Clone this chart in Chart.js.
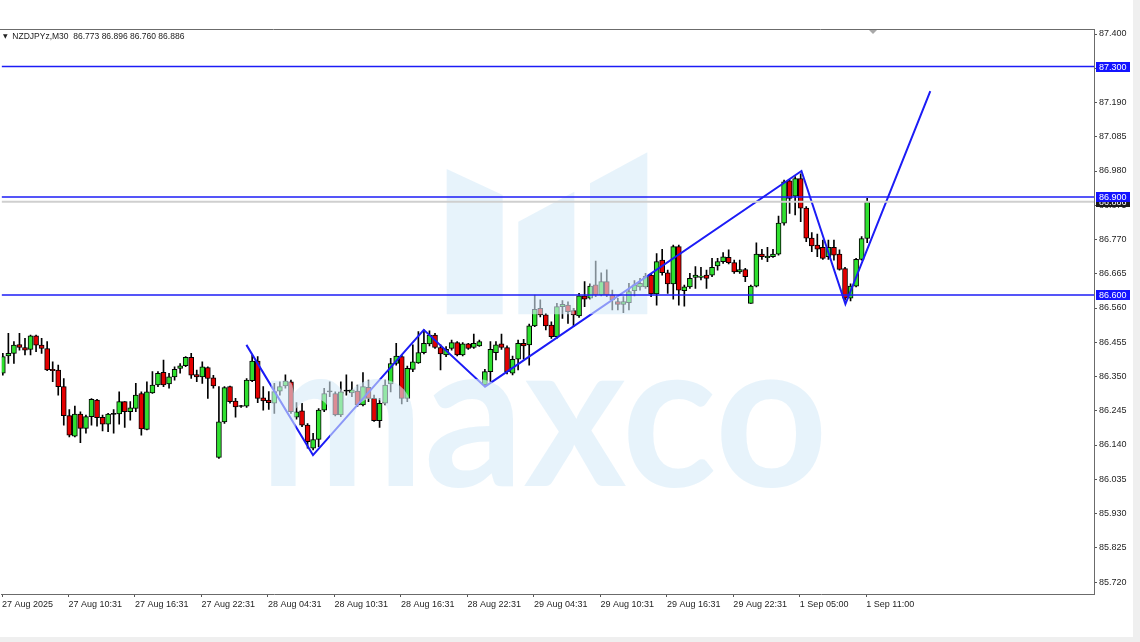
<!DOCTYPE html>
<html>
<head>
<meta charset="utf-8">
<script src="https://cdn.jsdelivr.net/npm/chart.js@4.4.1/dist/chart.umd.min.js"></script>
<style>
html,body{margin:0;padding:0;background:#fff;width:1140px;height:642px;overflow:hidden}
#wrap{position:relative;width:1140px;height:642px}
#c{position:absolute;left:0;top:0}
#hdr{position:absolute;left:3px;top:31px;font:8.5px 'Liberation Sans',Arial,sans-serif;color:#1a1a1a;white-space:pre;line-height:10px}
#hdr .tri{font:6px 'DejaVu Sans',sans-serif;color:#222;vertical-align:1px}
</style>
</head>
<body>
<div id="wrap">
<canvas id="c" width="1140" height="642"></canvas>
<div id="hdr"><span class="tri">▼</span>  NZDJPYz,M30  86.773 86.896 86.760 86.886</div>
</div>
<script>
// ---- data (M30 candles) ----
const opens = [86.360,86.413,86.421,86.448,86.439,86.433,86.475,86.446,86.436,86.372,86.370,86.319,86.230,86.167,86.235,86.191,86.227,86.278,86.225,86.204,86.235,86.235,86.273,86.242,86.252,86.298,86.188,86.300,86.324,86.363,86.327,86.349,86.375,86.383,86.409,86.356,86.349,86.377,86.346,86.102,86.211,86.319,86.275,86.259,86.259,86.337,86.397,86.285,86.278,86.268,86.305,86.321,86.334,86.225,86.245,86.201,86.130,86.157,86.247,86.303,86.298,86.232,86.305,86.300,86.305,86.263,86.317,86.283,86.215,86.268,86.327,86.390,86.411,86.283,86.372,86.392,86.423,86.450,86.477,86.439,86.416,86.436,86.454,86.416,86.450,86.439,86.444,86.324,86.365,86.423,86.450,86.439,86.360,86.403,86.452,86.447,86.505,86.559,86.539,86.508,86.472,86.564,86.569,86.552,86.536,86.597,86.590,86.631,86.600,86.641,86.600,86.580,86.571,86.576,86.613,86.625,86.625,86.661,86.603,86.707,86.668,86.634,86.748,86.613,86.625,86.654,86.654,86.661,86.661,86.689,86.702,86.715,86.699,86.671,86.678,86.574,86.627,86.725,86.714,86.717,86.725,86.820,86.950,86.903,86.957,86.866,86.774,86.753,86.746,86.717,86.746,86.725,86.681,86.590,86.627,86.709,86.773];
const highs = [86.421,86.482,86.457,86.482,86.467,86.477,86.477,86.467,86.457,86.395,86.385,86.344,86.249,86.259,86.242,86.232,86.282,86.280,86.232,86.237,86.249,86.303,86.273,86.273,86.329,86.303,86.334,86.365,86.365,86.400,86.360,86.380,86.390,86.411,86.421,86.370,86.395,86.380,86.354,86.319,86.319,86.321,86.283,86.262,86.344,86.416,86.411,86.319,86.304,86.329,86.334,86.355,86.339,86.270,86.268,86.206,86.176,86.252,86.314,86.334,86.303,86.334,86.355,86.334,86.324,86.362,86.339,86.293,86.283,86.339,86.406,86.452,86.416,86.382,86.447,86.488,86.493,86.490,86.482,86.447,86.442,86.462,86.457,86.454,86.452,86.480,86.462,86.372,86.457,86.457,86.480,86.444,86.413,86.462,86.464,86.511,86.600,86.585,86.544,86.518,86.574,86.583,86.579,86.559,86.605,86.641,86.634,86.704,86.668,86.677,86.615,86.590,86.595,86.636,86.644,86.651,86.666,86.666,86.727,86.740,86.676,86.753,86.753,86.630,86.666,86.687,86.685,86.676,86.712,86.712,86.730,86.738,86.707,86.707,86.682,86.630,86.760,86.740,86.746,86.740,86.842,86.952,86.954,86.963,86.971,86.871,86.791,86.787,86.768,86.768,86.768,86.738,86.685,86.634,86.712,86.779,86.896];
const lows = [86.354,86.390,86.390,86.431,86.416,86.416,86.426,86.421,86.368,86.334,86.293,86.201,86.165,86.165,86.147,86.176,86.201,86.198,86.183,86.181,86.176,86.204,86.194,86.216,86.242,86.170,86.186,86.298,86.319,86.319,86.314,86.339,86.360,86.380,86.344,86.334,86.329,86.283,86.314,86.099,86.206,86.268,86.225,86.255,86.255,86.334,86.270,86.247,86.249,86.237,86.293,86.314,86.237,86.219,86.196,86.130,86.125,86.135,86.242,86.288,86.229,86.227,86.293,86.288,86.258,86.260,86.273,86.212,86.194,86.263,86.303,86.385,86.266,86.273,86.365,86.390,86.419,86.444,86.436,86.370,86.411,86.431,86.413,86.413,86.433,86.436,86.442,86.319,86.334,86.401,86.433,86.358,86.355,86.370,86.403,86.385,86.503,86.533,86.493,86.467,86.467,86.528,86.513,86.503,86.531,86.564,86.587,86.595,86.597,86.595,86.554,86.554,86.546,86.554,86.597,86.615,86.620,86.595,86.569,86.661,86.605,86.587,86.569,86.566,86.620,86.620,86.646,86.620,86.656,86.676,86.697,86.695,86.666,86.666,86.641,86.574,86.625,86.709,86.702,86.715,86.722,86.814,86.850,86.845,86.825,86.763,86.733,86.717,86.709,86.709,86.707,86.676,86.584,86.582,86.625,86.707,86.760];
const closes = [86.411,86.421,86.446,86.439,86.431,86.475,86.446,86.436,86.370,86.368,86.319,86.230,86.170,86.235,86.191,86.227,86.280,86.224,86.204,86.235,86.234,86.273,86.242,86.254,86.293,86.189,86.303,86.324,86.360,86.324,86.349,86.372,86.383,86.409,86.354,86.349,86.380,86.344,86.321,86.211,86.316,86.273,86.257,86.258,86.339,86.397,86.283,86.275,86.270,86.304,86.319,86.336,86.242,86.242,86.201,86.150,86.157,86.247,86.298,86.303,86.232,86.303,86.305,86.309,86.263,86.319,86.283,86.215,86.268,86.324,86.390,86.413,86.283,86.375,86.395,86.423,86.452,86.477,86.439,86.419,86.433,86.454,86.416,86.450,86.436,86.452,86.457,86.365,86.433,86.447,86.439,86.365,86.403,86.452,86.444,86.505,86.556,86.539,86.505,86.472,86.564,86.571,86.549,86.539,86.597,86.587,86.627,86.600,86.641,86.600,86.585,86.571,86.580,86.610,86.631,86.636,86.658,86.603,86.702,86.668,86.634,86.748,86.615,86.625,86.651,86.661,86.658,86.651,86.685,86.702,86.717,86.699,86.671,86.678,86.656,86.627,86.725,86.717,86.719,86.725,86.820,86.947,86.896,86.957,86.866,86.774,86.750,86.740,86.712,86.746,86.722,86.678,86.590,86.627,86.709,86.773,86.886];

// pattern line (bar index, price)
const zigzagX = [43.96, 55.98, 75.98, 87.03, 144.14, 152.07, 167.39];
const zigzagY = [86.447, 86.109, 86.493, 86.319, 86.980, 86.572, 87.225];

// horizontal levels and current bid
const levels = [87.300, 86.900, 86.600];
const bidPrice = 86.886;

// axis tick labels
const xTickBars = [0, 12, 24, 36, 48, 60, 72, 84, 96, 108, 120, 132, 144, 156];
const xTickLabels = ['27 Aug 2025','27 Aug 10:31','27 Aug 16:31','27 Aug 22:31','28 Aug 04:31','28 Aug 10:31','28 Aug 16:31','28 Aug 22:31','29 Aug 04:31','29 Aug 10:31','29 Aug 16:31','29 Aug 22:31','1 Sep 05:00','1 Sep 11:00'];
const yTickLabels = ['87.400','87.295','87.190','87.085','86.980','86.875','86.770','86.665','86.560','86.455','86.350','86.245','86.140','86.035','85.930','85.825','85.720'];

// ---- chart ----
Chart.defaults.font.family = "'Liberation Sans', Arial, sans-serif";
Chart.defaults.font.size = 9;
Chart.defaults.color = '#1e1e1e';

const idx = opens.map((_, i) => i);
const wickData = idx.map(i => ({x: i, y: [lows[i], highs[i]]}));
const bodyData = idx.map(i => ({x: i, y: [opens[i], closes[i]]}));
const bodyFill = idx.map(i => Math.abs(closes[i] - opens[i]) < 0.0015 ? '#000000' : (closes[i] > opens[i] ? '#2fe02f' : '#e40000'));
const zigzagData = zigzagX.map((x, i) => ({x, y: zigzagY[i]}));
const BLUE = '#1c1cf6';

const datasets = [
  {type:'bar', label:'wick', data: wickData, backgroundColor:'#000000', borderWidth:0, barThickness:1, grouped:false, order:10},
  {type:'bar', label:'body', data: bodyData, backgroundColor: bodyFill, borderColor:'#000000', borderWidth:1, borderSkipped:false, barThickness:5, minBarLength:1, grouped:false, order:9},
  {type:'line', label:'pattern', data: zigzagData, borderColor: BLUE, borderWidth:2, pointRadius:0, tension:0, fill:false, order:8},
  {type:'line', label:'bid', data:[{x:-5,y:bidPrice},{x:260,y:bidPrice}], borderColor:'#cfcfcf', borderWidth:2, pointRadius:0, fill:false, order:3}
];
levels.forEach((lv, i) => datasets.push({type:'line', label:'level'+i, data:[{x:-5,y:lv},{x:260,y:lv}], borderColor: BLUE, borderWidth:1.5, pointRadius:0, fill:false, order:1}));

const PX_PER_BAR = 5.55;
const PX_PER_UNIT = 326.2;
const xMin = -1 / PX_PER_BAR;
const xMax = xMin + 1094 / PX_PER_BAR;
const yMax = 87.4 + 5 / PX_PER_UNIT;
const yMin = 87.4 - 560 / PX_PER_UNIT;

const bgPlugin = {
  id:'bg',
  beforeDraw(chart){
    const c = chart.ctx;
    c.save();
    c.fillStyle = '#ffffff'; c.fillRect(0,0,chart.width,chart.height);
    c.fillStyle = '#efefef';
    c.fillRect(1133,0,7,chart.height);
    c.fillRect(0,637,chart.width,5);
    c.restore();
  }
};

const watermarkPlugin = {
  id:'wm',
  afterDatasetDraw(chart, args){
    if (args.index !== 2) return;
    const c = chart.ctx, a = chart.chartArea;
    c.save();
    c.beginPath(); c.rect(a.left, a.top, a.right - a.left, a.bottom - a.top); c.clip();
    c.fillStyle = 'rgba(215,235,248,0.6)';
    const polys = [
      [[446.7,169],[502.7,195],[502.7,314.3],[446.7,314.3]],
      [[518.3,221.7],[574.3,191.7],[574.3,314.3],[518.3,314.3]],
      [[590,183.3],[647.3,152.3],[647.3,314.3],[590,314.3]]
    ];
    polys.forEach(p => { c.beginPath(); c.moveTo(p[0][0],p[0][1]); for (let k=1;k<p.length;k++) c.lineTo(p[k][0],p[k][1]); c.closePath(); c.fill(); });
    c.font = '700 200px Lato';
    c.textBaseline = 'alphabetic';
    c.textAlign = 'left';
    const m = c.measureText('maxco');
    const xm = c.measureText('x');
    const inkW = m.actualBoundingBoxLeft + m.actualBoundingBoxRight;
    const xh = xm.actualBoundingBoxAscent;
    c.translate(271, 486);
    c.scale(551 / inkW, 106 / xh);
    c.fillText('maxco', m.actualBoundingBoxLeft, 0);
    c.restore();
  }
};

const framePlugin = {
  id:'frame',
  afterDraw(chart){
    const c = chart.ctx, a = chart.chartArea, ys = chart.scales.y;
    c.save();
    c.strokeStyle = '#6b6b6b'; c.lineWidth = 1;
    c.beginPath(); c.moveTo(0, a.top + 0.5); c.lineTo(a.right, a.top + 0.5); c.stroke();
    // shift marker
    c.fillStyle = '#a8a8a8';
    c.beginPath(); c.moveTo(869, a.top + 1); c.lineTo(877, a.top + 1); c.lineTo(873, a.top + 5); c.closePath(); c.fill();
    // axis price tags
    c.font = "9px 'Liberation Sans', Arial, sans-serif";
    c.textBaseline = 'middle'; c.textAlign = 'left';
    const tag = (v, bg) => {
      const y = ys.getPixelForValue(v);
      c.fillStyle = bg; c.fillRect(a.right + 2, Math.round(y) - 5, 34, 10);
      c.fillStyle = '#ffffff'; c.fillText(v.toFixed(3), a.right + 5, y + 0.5);
    };
    tag(bidPrice, '#1a1a1a');
    levels.forEach(lv => tag(lv, '#1414ff'));
    c.restore();
  }
};

new Chart(document.getElementById('c'), {
  type:'bar',
  data:{datasets},
  plugins:[bgPlugin, watermarkPlugin, framePlugin],
  options:{
    responsive:false,
    animation:false,
    events:[],
    layout:{padding:{left:0, top:29, right:0, bottom:0}},
    plugins:{legend:{display:false}, tooltip:{enabled:false}, title:{display:false}},
    scales:{
      x:{
        type:'linear', position:'bottom', min:xMin, max:xMax, offset:false,
        grid:{display:true, offset:false, drawOnChartArea:false, drawTicks:true, tickLength:3, tickColor:'#555555'},
        border:{display:true, color:'#6b6b6b', width:1},
        afterBuildTicks(s){ s.ticks = xTickBars.map(v => ({value: v - 0.15})); },
        afterFit(s){ s.height = 48; },
        ticks:{autoSkip:false, maxRotation:0, minRotation:0, align:'start', padding:2, color:'#1e1e1e', font:{size:9},
          callback:(v, i) => xTickLabels[i]}
      },
      y:{
        type:'linear', position:'right', min:yMin, max:yMax,
        grid:{display:true, drawOnChartArea:false, drawTicks:true, tickLength:3, tickColor:'#555555'},
        border:{display:true, color:'#6b6b6b', width:1},
        afterBuildTicks(s){ s.ticks = yTickLabels.map(t => ({value: parseFloat(t)})); },
        afterFit(s){ s.width = 46; },
        ticks:{padding:2, color:'#1e1e1e', font:{size:9}, callback:(v, i) => yTickLabels[i]}
      }
    }
  }
});
</script>
</body>
</html>
